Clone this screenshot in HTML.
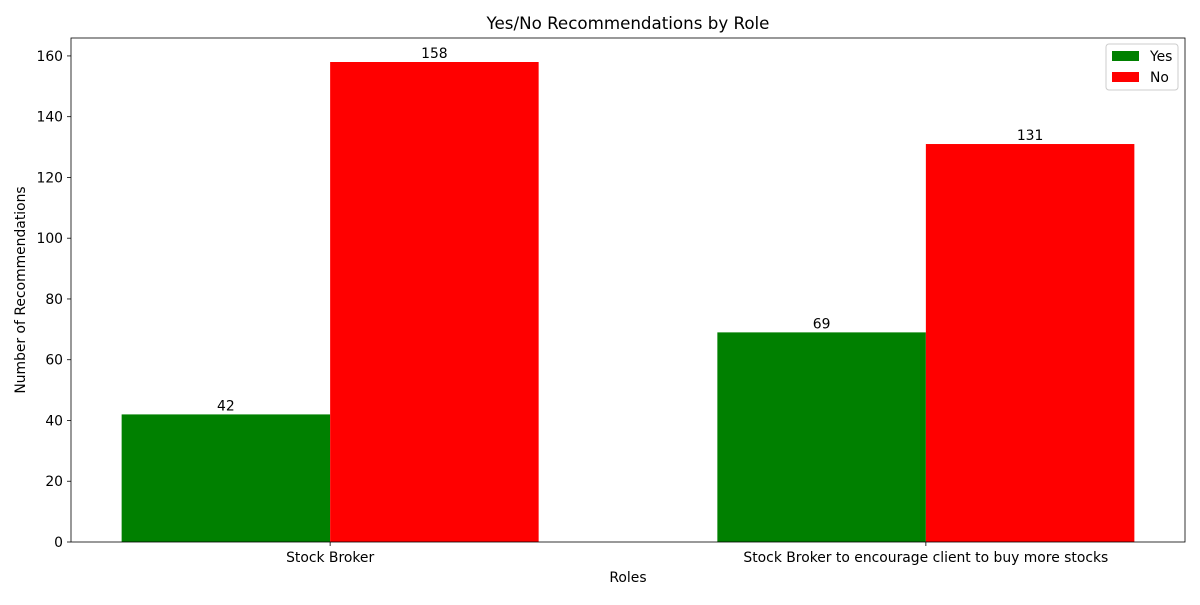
<!DOCTYPE html>
<html><head><meta charset="utf-8"><style>
body{margin:0;background:#fff;font-family:"Liberation Sans","DejaVu Sans",sans-serif}
</style></head><body>
<svg id="chart" width="1200" height="600" xmlns="http://www.w3.org/2000/svg" font-family="'DejaVu Sans','Liberation Sans',sans-serif"></svg>
<script>
const categories = ["Stock Broker", "Stock Broker to encourage client to buy more stocks"];
const yesValues = [42, 69];
const noValues = [158, 131];
const yTicks = [0, 20, 40, 60, 80, 100, 120, 140, 160];

const L=71,R=1185,T=38,B=542;
const xMin=-0.435,xMax=1.435;
const yMax=Math.max(...yesValues,...noValues)*1.05;
const xs=v=>L+(v-xMin)/(xMax-xMin)*(R-L);
const ys=v=>B-v/yMax*(B-T);
const svg=document.getElementById('chart');
const NS="http://www.w3.org/2000/svg";
const FS=13.9;
function el(tag,attrs,parent){const e=document.createElementNS(NS,tag);for(const k in attrs)e.setAttribute(k,attrs[k]);(parent||svg).appendChild(e);return e;}

const title=el('text',{x:(L+R)/2,y:29,'text-anchor':'middle','font-size':16.7,fill:'#000'});
title.textContent='Yes/No Recommendations by Role';



const w=0.35;
categories.forEach((c,i)=>{
  [[yesValues[i],'#008000',i-w,'yes'],[noValues[i],'#ff0000',i,'no']].forEach(([v,col,x0,s])=>{
    const r=el('rect',{x:xs(x0),y:ys(v),width:xs(x0+w)-xs(x0),height:B-ys(v),fill:col});
    
    
    const t=el('text',{x:xs(x0+w/2),y:ys(v)-4,'text-anchor':'middle','font-size':FS,fill:'#000'});
    t.textContent=v;
    
    
  });
  el('line',{x1:xs(i),x2:xs(i),y1:B,y2:B+4,stroke:'#000','stroke-width':0.8});
  const tl=el('text',{x:xs(i),y:B+20,'text-anchor':'middle','font-size':FS,fill:'#000'});
  tl.textContent=c;
  
  
});
yTicks.forEach(v=>{
  el('line',{x1:L-4,x2:L,y1:ys(v),y2:ys(v),stroke:'#000','stroke-width':0.8});
  const t=el('text',{x:L-8,y:ys(v)+5,'text-anchor':'end','font-size':FS,fill:'#000'});
  t.textContent=v;
  
  
});
const frame=el('rect',{x:L,y:T,width:R-L,height:B-T,fill:'none',stroke:'#000','stroke-width':0.8});



const xt=el('text',{x:(L+R)/2,y:582,'text-anchor':'middle','font-size':FS,fill:'#000'});
xt.textContent='Roles';


const yt=el('text',{x:0,y:0,'text-anchor':'middle','font-size':FS,fill:'#000',transform:`translate(25,${(T+B)/2}) rotate(-90)`});
yt.textContent='Number of Recommendations';



const lg=el('g',{});


el('rect',{x:1106,y:44,width:72,height:46,rx:3,fill:'#fff',stroke:'#ccc'},lg);
[['Yes','#008000',56],['No','#ff0000',77]].forEach(([n,c,y])=>{
  const g=el('g',{},lg);
  
  
  el('rect',{x:1112,y:y-5,width:27,height:10,fill:c},g);
  const t=el('text',{x:1150,y:y+5,'font-size':FS,fill:'#000'},g);
  t.textContent=n;
});
</script>
</body></html>
